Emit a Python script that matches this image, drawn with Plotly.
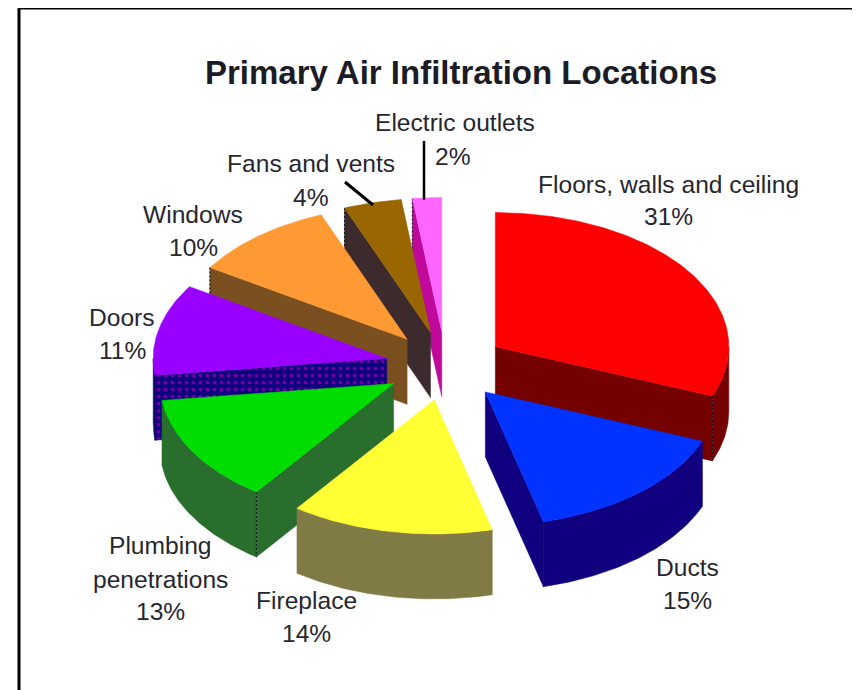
import math
import plotly.graph_objects as go

# ---- data ----
categories = ["Floors, walls and ceiling", "Ducts", "Fireplace", "Plumbing penetrations",
              "Doors", "Windows", "Fans and vents", "Electric outlets"]
percent = [31, 15, 14, 13, 11, 10, 4, 2]

# ---- styles ----
top_colors = ["#ff0000", "#0033ff", "#ffff33", "#00dd00", "#9900ff", "#ff9933", "#996600", "#ff66ff"]
side_colors = ["#750000", "#10007f", "#807a45", "#2a6e2e", "#10007f", "#7a5020", "#3c2a2c", "#c0089a"]

# ---- pie geometry ----
CX, CY, RX, RY, DEPTH, PULL = 445.5, 366, 233.5, 134, 65, 0.258
FONT = "Liberation Sans"
TEXT = "#26262e"
PAGE_MARGIN = 8  # the browser's body margin offsets the plot


def pt(cx, cy, deg, r=1.0, dy=0):
    a = math.radians(deg)
    return cx + r * RX * math.sin(a), cy - r * RY * math.cos(a) + dy


def arc(cx, cy, a0, a1, dy=0):
    n = max(2, int(abs(a1 - a0) * 1.5))
    return [pt(cx, cy, a0 + (a1 - a0) * i / n, 1, dy) for i in range(n + 1)]


def poly(points, color, pattern=None):
    xs = [p[0] for p in points] + [points[0][0]]
    ys = [p[1] for p in points] + [points[0][1]]
    kw = {"fillpattern": pattern} if pattern else {}
    return go.Scatter(x=xs, y=ys, mode="lines", fill="toself", fillcolor=color,
                      line=dict(color=color, width=0.5), hoverinfo="skip", showlegend=False, **kw)


def edge(p, color="#1a1a2a"):
    return go.Scatter(x=[p[0], p[0]], y=[p[1], p[1] + DEPTH], mode="lines",
                      line=dict(color=color, width=1.2, dash="2px,2px"),
                      hoverinfo="skip", showlegend=False)


# cumulative angles
wedges = []
acc = 0
for i, v in enumerate(percent):
    a0 = acc * 3.6
    acc += v
    a1 = acc * 3.6
    cx, cy = pt(CX, CY, (a0 + a1) / 2, PULL)
    wedges.append((i, a0, a1, cx, cy))

# back-to-front: rear wedges first, front wedges last
order = [7, 6, 5, 4, 0, 3, 2, 1]
fig = go.Figure()
for i in order:
    _, a0, a1, cx, cy = wedges[i]
    side = side_colors[i]
    pattern = None
    if categories[i] == "Doors":
        pattern = dict(shape=".", fgcolor="#d000c0", bgcolor="#10007f", size=7, solidity=0.22)
    if math.sin(math.radians(a0)) < 0:   # leading radial face looks at the viewer
        p = pt(cx, cy, a0)
        fig.add_trace(poly([(cx, cy), p, (p[0], p[1] + DEPTH), (cx, cy + DEPTH)], side, pattern))
    if math.sin(math.radians(a1)) > 0:   # trailing radial face looks at the viewer
        p = pt(cx, cy, a1)
        fig.add_trace(poly([(cx, cy), p, (p[0], p[1] + DEPTH), (cx, cy + DEPTH)], side, pattern))
    lo, hi = max(a0, 90), min(a1, 270)
    if lo < hi:                          # visible part of the rim
        fig.add_trace(poly(arc(cx, cy, lo, hi) + arc(cx, cy, hi, lo, DEPTH), side, pattern))
    for a in (a0, a1):
        s = math.sin(math.radians(a))
        if (a == a0 and s < 0) or (a == a1 and s > 0):
            fig.add_trace(edge(pt(cx, cy, a)))
    fig.add_trace(poly([(cx, cy)] + arc(cx, cy, a0, a1), top_colors[i]))

# ---- text ----
labels = [
    ("Electric outlets", 455, 122), ("2%", 453, 156),
    ("Floors, walls and ceiling", 668, 184), ("31%", 668, 216),
    ("Fans and vents", 311, 163), ("4%", 311, 197),
    ("Windows", 193, 214), ("10%", 193, 247),
    ("Doors", 122, 317), ("11%", 122, 350),
    ("Plumbing", 160, 545), ("penetrations", 160, 579), ("13%", 160, 611),
    ("Fireplace", 306, 600), ("14%", 306, 633),
    ("Ducts", 687, 567), ("15%", 687, 600),
]
annotations = [dict(x=x, y=y, text=t, showarrow=False, xanchor="center", yanchor="middle",
                    font=dict(family=FONT, size=24.6, color=TEXT)) for t, x, y in labels]
annotations.append(dict(x=461, y=72, text="<b>Primary Air Infiltration Locations</b>", showarrow=False,
                        xanchor="center", yanchor="middle",
                        font=dict(family=FONT, size=33, color="#1c1c26")))

shapes = [
    dict(type="line", x0=19, x1=19, y0=8, y1=690, line=dict(color="black", width=3)),
    dict(type="line", x0=19, x1=860, y0=8, y1=8, line=dict(color="black", width=3)),
    dict(type="line", x0=345, y0=182, x1=373, y1=205, line=dict(color="black", width=3)),
    dict(type="line", x0=424, y0=141, x1=424, y1=200, line=dict(color="black", width=2.5)),
]

fig.update_layout(
    width=860 - PAGE_MARGIN, height=690 - PAGE_MARGIN, margin=dict(l=0, r=0, t=0, b=0),
    paper_bgcolor="white", plot_bgcolor="white", showlegend=False,
    xaxis=dict(range=[PAGE_MARGIN, 860], visible=False, fixedrange=True),
    yaxis=dict(range=[690, PAGE_MARGIN], visible=False, fixedrange=True),
    annotations=annotations, shapes=shapes,
)
fig.write_html("out.html", config={"displayModeBar": False})
